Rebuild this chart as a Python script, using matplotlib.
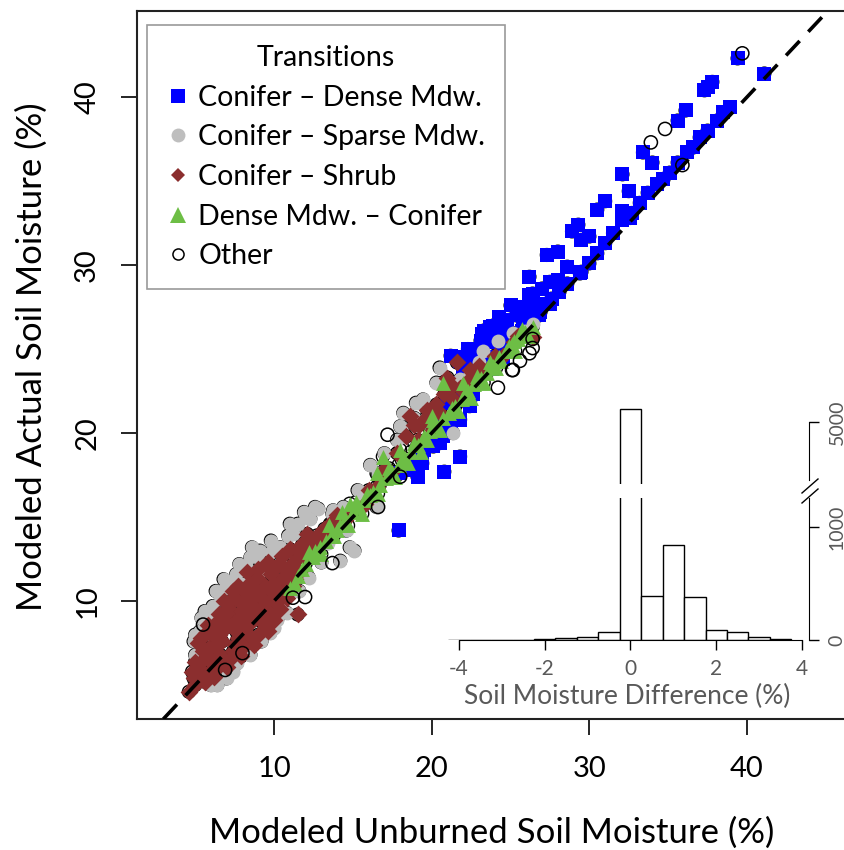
import matplotlib
matplotlib.use("Agg")
import matplotlib.pyplot as plt
from matplotlib.lines import Line2D

plt.rcParams['font.family'] = ['Lato', 'DejaVu Sans']
plt.rcParams['axes.unicode_minus'] = False

# ---- scatter data ----
dense_x = [39.4, 41.1, 37.5, 37.8, 37.3, 36.1, 35.6, 33.4, 34.0, 32.1, 32.5, 31.0, 30.5, 32.1, 32.6,
           29.3, 28.9, 30.0, 29.5, 27.3, 28.0, 28.6, 29.5, 26.2, 26.2, 27.5, 23.9, 24.5, 23.3, 23.5,
           25.4, 38.9, 38.5, 38.1, 37.5, 37.0, 36.6, 36.2, 35.6, 35.1, 34.7, 34.3, 33.7, 33.2, 32.7,
           32.1, 31.5, 31.0, 30.5, 30.0, 29.4, 28.6, 28.1, 27.5, 26.9, 26.2, 25.7, 26.2, 21.6, 22.9,
           23.5, 24.3, 25.4, 26.4, 27.3, 23.9, 22.4, 21.8, 20.7, 20.1, 19.1, 18.0, 19.1, 21.8, 20.8,
           17.9, 26.4, 28.0, 24.3, 23.7, 23.1, 21.8, 22.6, 24.8, 25.6, 26.9, 21.4, 22.0, 22.6, 21.0,
           23.0, 23.8, 24.5, 25.0, 21.2, 22.2, 20.5, 21.2, 18.4, 19.4, 23.1, 24.0,
           22.3, 23.2, 24.8, 25.8, 26.8, 27.6, 27.0, 25.0, 22.0, 21.0, 20.3, 19.5, 18.6, 23.8, 24.6,
           21.2]
dense_y = [42.3, 41.4, 40.6, 40.9, 40.4, 39.2, 38.6, 36.7, 36.1, 35.4, 34.4, 33.8, 33.3, 33.2, 32.8,
           32.4, 32.0, 31.7, 31.5, 30.6, 30.8, 29.9, 29.6, 29.3, 28.2, 29.0, 26.4, 26.7, 26.1, 25.5,
           27.0, 39.4, 39.1, 38.6, 38.0, 37.6, 37.0, 36.7, 36.1, 35.5, 35.1, 34.8, 34.3, 33.7, 33.1,
           32.7, 31.9, 31.3, 30.7, 30.1, 29.5, 28.9, 28.4, 27.7, 27.2, 26.7, 26.1, 27.5, 24.5, 24.5,
           26.0, 26.7, 27.1, 27.5, 27.7, 25.4, 21.6, 20.8, 19.8, 19.2, 18.4, 17.6, 17.4, 18.6, 17.7,
           14.2, 28.3, 29.1, 26.9, 26.3, 25.5, 24.3, 24.5, 26.7, 27.5, 27.5, 21.8, 22.4, 22.3, 20.5,
           23.0, 23.8, 24.4, 25.3, 24.6, 24.0, 19.4, 20.2, 17.8, 18.2, 24.8, 25.9,
           25.0, 25.9, 26.0, 26.5, 27.0, 28.0, 28.6, 27.6, 23.4, 21.8, 20.4, 19.0, 18.0, 24.5, 25.3,
           23.0]

sparse_x = [5.3, 5.8, 6.1, 6.6, 7.2, 7.6, 8.2, 8.9, 9.4, 9.8, 10.4, 10.9, 11.5, 6.9, 8.0, 9.2, 5.0,
            4.9, 9.75, 10.2, 10.4, 8.9, 7.65, 6.8, 13.4, 14.2, 15.1, 14.6, 15.6, 13.0, 8.5, 9.1,
            10.6, 7.4, 11.0, 13.7, 14.4, 15.3, 20.5, 20.3, 19.45, 18.2, 18.0, 17.8, 16.1, 15.6, 13.75,
            23.25, 25.15, 26.4, 21.35, 16.5, 14.8, 25.9, 19.0, 18.9, 17.0, 16.6, 22.3, 24.2, 12.3,
            12.8, 11.9, 7.0, 6.0, 5.6, 8.3, 9.5, 10.9, 21.8, 23.0,
            5.0, 5.4, 6.3, 6.8, 7.8, 8.6, 9.8, 11.2, 12.0, 12.6, 9.2, 10.0, 10.8, 11.6, 12.2, 8.5,
            7.4, 6.4]
sparse_y = [8.2, 8.9, 9.7, 10.3, 11.1, 11.6, 12.1, 12.6, 12.2, 12.9, 13.2, 13.9, 14.6, 10.8, 11.0,
            11.8, 6.8, 7.6, 8.1, 8.9, 9.6, 7.7, 6.3, 6.1, 13.45, 12.4, 13.0, 14.2, 16.4, 12.3, 12.6,
            13.0, 13.0, 11.1, 14.6, 15.2, 15.6, 16.6, 23.9, 23.0, 22.0, 21.2, 20.4, 19.6, 18.1, 16.4,
            15.4, 24.9, 25.95, 26.5, 20.0, 15.6, 13.2, 26.1, 21.8, 20.9, 18.8, 17.6, 23.3, 25.5, 14.9,
            15.5, 15.3, 5.4, 5.0, 9.4, 7.0, 8.6, 10.6, 23.2, 24.2,
            8.0, 9.0, 10.6, 11.3, 12.2, 13.2, 13.6, 14.0, 15.0, 15.6, 7.6, 8.4, 9.3, 10.6, 11.4, 6.8,
            5.8, 5.0]

shrub_x = [4.6, 5.0, 5.2, 5.3, 5.5, 5.2, 5.6, 5.9, 6.0, 5.9, 6.1, 6.3, 6.5, 6.4, 6.6, 6.7, 6.9, 7.0,
           7.2, 7.4, 7.0, 7.3, 7.5, 7.6, 7.8, 8.0, 8.2, 8.5, 8.9, 7.9, 8.1, 8.4, 8.6, 8.8, 9.1, 9.4,
           9.8, 10.3, 8.7, 9.0, 9.3, 9.6, 9.9, 10.2, 10.6, 11.0, 11.5, 9.6, 10.0, 10.4, 10.8, 11.2,
           11.6, 12.0, 12.1, 11.5, 11.0, 12.4, 4.8, 5.7, 6.8, 8.3, 13.55, 15.8, 17.4, 18.4, 18.6,
           19.1, 19.7, 20.1, 21.0, 21.3, 21.6, 21.8, 22.4, 22.9, 23.5, 26.4, 20.5, 19.2, 22.0, 24.5,
           16.5, 14.5, 12.8, 25.2,
           5.4, 5.8, 6.2, 6.5, 6.8, 7.1, 7.5, 7.7, 8.3, 8.7, 9.0, 9.6, 10.0, 10.5, 11.0, 11.3, 11.8,
           6.2, 6.8, 7.4, 7.7, 8.0, 8.3, 8.6, 9.2, 9.4, 9.7, 10.1, 10.5, 10.9, 11.3, 5.0, 5.4, 5.8,
           4.9, 7.3, 7.9, 8.5, 9.9, 10.7, 12.2, 12.7, 13.2, 14.0,
           17.0, 17.8, 18.9, 19.5, 20.3, 20.8, 21.3, 22.2, 23.0, 24.0, 25.5, 13.0, 14.0, 15.0, 16.0]
shrub_y = [4.6, 5.0, 5.6, 6.3, 7.0, 7.5, 5.2, 5.7, 6.4, 7.2, 8.0, 8.7, 9.2, 6.0, 6.8, 7.6, 8.4, 9.3,
           10.0, 10.6, 6.1, 6.6, 7.4, 8.2, 9.0, 9.8, 10.5, 11.1, 11.4, 6.7, 7.3, 8.0, 8.8, 9.6, 10.3,
           10.9, 11.6, 12.2, 7.4, 8.0, 8.7, 9.4, 10.1, 10.7, 11.4, 12.1, 13.0, 8.2, 8.9, 9.5, 10.2,
           10.9, 11.7, 12.6, 14.0, 9.2, 13.1, 13.3, 5.8, 8.1, 10.0, 8.6, 14.6, 15.8, 17.6, 19.8, 21.0,
           19.6, 21.4, 20.2, 23.3, 22.1, 24.2, 22.7, 23.75, 23.2, 23.75, 25.7, 21.2, 20.5, 22.5, 24.6,
           16.8, 14.8, 13.3, 25.4,
           5.9, 6.7, 7.3, 8.0, 8.8, 9.6, 10.2, 10.9, 11.7, 10.8, 11.9, 12.3, 11.1, 12.7, 11.6, 12.4,
           13.4, 5.5, 6.3, 7.0, 7.8, 8.5, 9.3, 10.1, 9.0, 9.8, 10.7, 9.9, 10.4, 11.0, 11.3, 6.4, 7.8,
           8.6, 5.4, 8.6, 9.4, 9.7, 11.8, 11.9, 13.7, 13.9, 14.3, 14.5,
           17.8, 18.8, 20.5, 20.8, 21.7, 22.3, 22.8, 23.0, 24.0, 24.6, 25.8, 14.0, 15.1, 15.4, 16.6]

conifer_x = [11.0, 11.5, 12.0, 12.5, 12.9, 13.3, 13.8, 14.2, 14.5, 14.8, 15.0, 15.4, 15.8, 15.9,
             16.3, 16.7, 16.9, 17.1, 17.5, 17.9, 18.3, 18.7, 19.1, 19.5, 19.9, 20.3, 20.7, 21.1,
             21.5, 21.9, 22.3, 22.7, 23.1, 23.5, 23.9, 24.3, 24.7, 25.1, 25.5, 25.9, 26.4, 14.3,
             16.5, 18.0, 20.0, 22.0, 24.4, 13.5, 12.2, 20.7, 25.2,
             11.3, 11.8, 12.6, 13.0, 13.6, 14.0, 14.7, 15.2, 15.6, 16.1, 16.6, 17.3, 17.7, 18.1,
             18.5, 18.9, 19.3, 19.7, 20.1, 20.5, 21.3, 21.7, 22.1, 22.5, 22.9, 23.3, 23.7, 24.1,
             24.9, 25.3, 25.7, 26.1]
conifer_y = [10.8, 11.5, 12.2, 12.6, 13.2, 13.6, 13.9, 14.5, 14.8, 15.8, 15.3, 15.6, 16.0, 16.4,
             16.5, 16.9, 18.6, 17.3, 17.7, 18.1, 18.5, 18.9, 19.3, 19.8, 20.1, 20.5, 20.9, 21.2,
             21.6, 22.0, 22.5, 22.9, 23.3, 23.6, 24.0, 24.5, 24.9, 25.3, 25.6, 26.0, 26.3, 15.3,
             17.6, 19.0, 21.0, 23.0, 24.3, 14.5, 12.9, 23.0, 25.5,
             11.0, 11.9, 13.0, 12.8, 13.9, 14.2, 14.5, 15.9, 15.2, 16.3, 16.4, 17.9, 17.4, 18.4,
             18.2, 19.4, 18.9, 19.6, 20.8, 20.2, 21.5, 21.3, 22.4, 22.1, 23.4, 23.0, 24.2, 23.9,
             25.2, 24.9, 26.2, 25.8]

other_x = [39.7, 34.8, 33.9, 11.97, 11.2, 13.7, 8.0, 6.9, 5.5, 17.2, 24.2, 25.15, 25.6, 26.2, 26.4,
           16.6, 18.0, 25.1, 26.4, 35.9]
other_y = [42.6, 38.1, 37.3, 10.24, 10.2, 12.26, 6.9, 5.9, 8.6, 19.9, 22.7, 23.75, 24.3, 24.75,
           25.6, 15.6, 17.4, 23.75, 25.06, 35.95]

# ---- inset histogram: soil moisture difference ----
bin_centers = [-4.0, -3.5, -3.0, -2.5, -2.0, -1.5, -1.0, -0.5, 0.0, 0.5, 1.0, 1.5, 2.0, 2.5, 3.0, 3.5]
bin_counts = [3, 3, 3, 4, 12, 14, 28, 75, 5200, 390, 840, 380, 90, 70, 25, 8]

legend_labels = ["Conifer \u2013 Dense Mdw.", "Conifer \u2013 Sparse Mdw.", "Conifer \u2013 Shrub",
                 "Dense Mdw. \u2013 Conifer", "Other"]

BLUE = "#0000FF"
GREY = "#BEBEBE"
BROWN = "#8B2E2E"
GREEN = "#6DBE45"
TXT_GREY = "#595959"

W, H = 844, 850
fig = plt.figure(figsize=(W / 100, H / 100), dpi=100)


def px_box(left, top, right, bottom):
    return [left / W, 1 - bottom / H, (right - left) / W, (bottom - top) / H]


ax = fig.add_axes(px_box(137, 11, 850, 719))
ax.set_xlim(1.31, 46.53)
ax.set_ylim(2.98, 45.12)

# black open circles under every point (they peek out at the edges)
all_x = dense_x + sparse_x + shrub_x + conifer_x
all_y = dense_y + sparse_y + shrub_y + conifer_y
ax.scatter(all_x, all_y, s=85, facecolors='none', edgecolors='black', linewidths=1.0, zorder=2)

ax.scatter(dense_x, dense_y, s=105, marker='s', color=BLUE, linewidths=0, zorder=3)
ax.scatter(sparse_x, sparse_y, s=100, marker='o', color=GREY, linewidths=0, zorder=4)
ax.scatter(shrub_x, shrub_y, s=82, marker='D', color=BROWN, linewidths=0, zorder=5)
ax.scatter(conifer_x, conifer_y, s=115, marker='^', color=GREEN, linewidths=0, zorder=6)
ax.scatter(other_x, other_y, s=90, facecolors='none', edgecolors='black', linewidths=1.1, zorder=7)

ax.axline((0, 0), slope=1, color='black', lw=2.6, linestyle=(0, (5.5, 3.5)), zorder=8)

for side in ['left', 'bottom', 'top', 'right']:
    ax.spines[side].set_linewidth(1.5)
    ax.spines[side].set_color('#222222')
ax.set_xticks([10, 20, 30, 40])
ax.set_yticks([10, 20, 30, 40])
ax.tick_params(axis='both', direction='out', length=11.5, width=1.2, labelsize=21, colors='black')
ax.tick_params(axis='x', pad=15)
ax.tick_params(axis='y', pad=15, labelrotation=90)
for lab in ax.get_yticklabels():
    lab.set_va('center')

fig.text(492 / W, 1 - 833 / H, "Modeled Unburned Soil Moisture (%)", ha='center', va='center',
         fontsize=25)
fig.text(32 / W, 1 - 357 / H, "Modeled Actual Soil Moisture (%)", ha='center', va='center',
         fontsize=25, rotation=90)

handles = [
    Line2D([], [], ls='none', marker='s', markersize=10, markerfacecolor=BLUE, markeredgewidth=0),
    Line2D([], [], ls='none', marker='o', markersize=10, markerfacecolor=GREY, markeredgewidth=0),
    Line2D([], [], ls='none', marker='D', markersize=7, markerfacecolor=BROWN, markeredgewidth=0),
    Line2D([], [], ls='none', marker='^', markersize=11, markerfacecolor=GREEN, markeredgewidth=0),
    Line2D([], [], ls='none', marker='o', markersize=8, markerfacecolor='none',
           markeredgecolor='black', markeredgewidth=1.1),
]
leg = ax.legend(handles, legend_labels, title="Transitions", loc='upper left',
                bbox_to_anchor=((147 - 137) / 713, (719 - 25) / 708),
                fontsize=20.5, title_fontsize=20.5, frameon=True, fancybox=False,
                edgecolor='#808080', handlelength=0.8, handletextpad=0.3,
                labelspacing=0.48, borderpad=0.7, borderaxespad=0)
leg.get_frame().set_linewidth(1.2)
leg.set_zorder(10)

# ---- inset histogram with a broken y axis ----
hx = (-4.3, 4.163)
ax_lo = fig.add_axes(px_box(446.1, 498, 809, 640))
ax_hi = fig.add_axes(px_box(446.1, 405, 809, 484))
for a in (ax_lo, ax_hi):
    a.patch.set_alpha(0)
    a.bar(bin_centers, bin_counts, width=0.5, color='white', edgecolor='black', linewidth=1.0)
    a.set_xlim(*hx)
    a.spines['left'].set_visible(False)
    a.spines['top'].set_visible(False)
    a.yaxis.tick_right()
    a.tick_params(axis='y', direction='out', length=7, width=1, labelsize=14,
                  labelcolor=TXT_GREY, pad=7, labelrotation=90)
    for lab in a.get_yticklabels():
        lab.set_va('center')

ax_lo.set_ylim(0, 1257)
ax_lo.set_yticks([0, 1000])
ax_lo.spines['right'].set_bounds(0, 1257)
ax_lo.spines['bottom'].set_bounds(-4, 4)
ax_lo.set_xticks([-4, -2, 0, 2, 4])
ax_lo.tick_params(axis='x', direction='out', length=7, width=1, labelsize=15,
                  labelcolor=TXT_GREY, pad=7)
ax_lo.set_xlabel("Soil Moisture Difference (%)", fontsize=19, color=TXT_GREY, labelpad=3)

ax_hi.set_ylim(4046, 5262)
ax_hi.set_yticks([5000])
ax_hi.spines['right'].set_bounds(4108, 5000)
ax_hi.spines['bottom'].set_visible(False)
ax_hi.set_xticks([])

# break marks on the inset y axis
for y0 in (493, 503):
    fig.add_artist(Line2D([802 / W, 818 / W], [1 - y0 / H, 1 - (y0 - 14) / H],
                          color='black', lw=1))

fig.savefig("out.png", dpi=100)
